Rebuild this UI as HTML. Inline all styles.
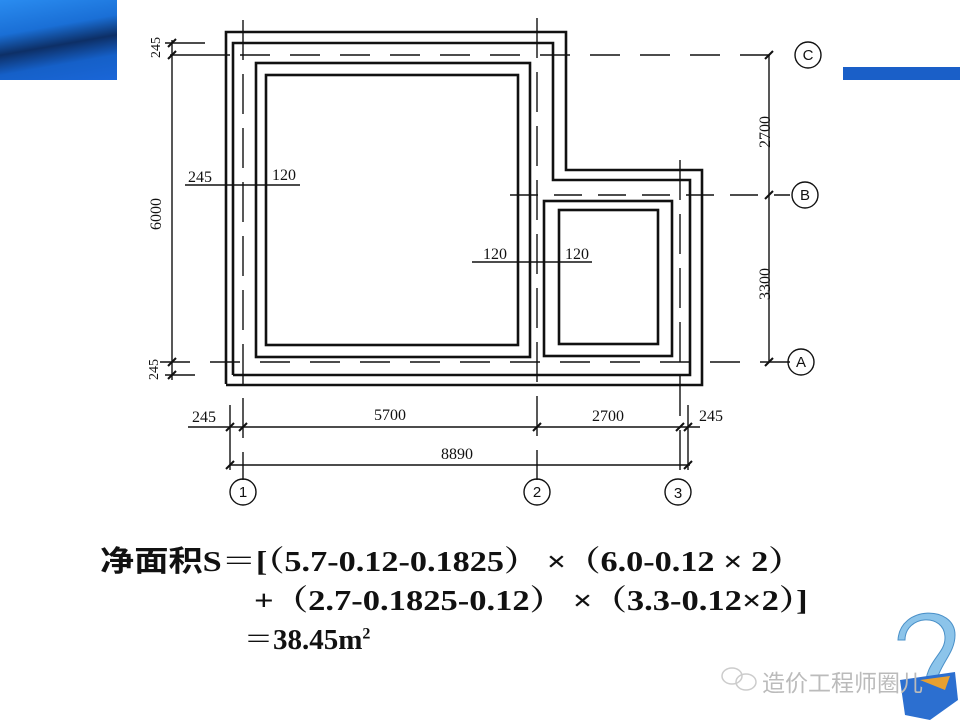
<!DOCTYPE html>
<html><head><meta charset="utf-8"><style>
html,body{margin:0;padding:0;background:#fff;}
body{width:960px;height:720px;position:relative;overflow:hidden;}
.f{position:absolute;font-family:"Liberation Serif","Noto Serif CJK SC",serif;font-weight:bold;font-size:29px;color:#111;white-space:nowrap;transform-origin:0 0;}
.cj{font-family:"Liberation Sans","Noto Sans CJK SC",sans-serif;}
</style></head><body>
<div style="position:absolute;left:0;top:0;width:117px;height:80px;background:linear-gradient(170deg,#2a8cf0 0%,#1a6fd6 35%,#0d2f66 55%,#1560c8 75%,#1a66d8 100%);"></div>
<div style="position:absolute;left:843px;top:67px;width:117px;height:13px;background:#1a5fc8;"></div>
<svg width="960" height="720" style="position:absolute;left:0;top:0" font-family="Liberation Serif,serif" font-size="16" fill="#111">
<g fill="none" stroke="#111" stroke-width="2.6">
<polyline points="226,384 226,32 566,32 566,170 702,170 702,385 226,385"/>
<polyline points="233,375 233,43 553,43 553,180 690,180 690,375 233,375"/>
<rect x="256" y="63" width="274" height="294"/>
<rect x="266" y="75" width="252" height="270"/>
<rect x="544" y="201" width="128" height="155"/>
<rect x="559" y="210" width="99" height="134"/>
</g>
<g fill="none" stroke="#111" stroke-width="1.4">
<line x1="170" y1="55" x2="230" y2="55"/>
<line x1="240" y1="55" x2="790" y2="55" stroke-dasharray="30,20"/>
<line x1="510" y1="195" x2="790" y2="195" stroke-dasharray="28,16"/>
<line x1="160" y1="362" x2="790" y2="362" stroke-dasharray="30,20"/>
<line x1="165" y1="43" x2="205" y2="43"/>
<line x1="165" y1="375" x2="195" y2="375"/>
<line x1="172" y1="40" x2="172" y2="380"/>
<line x1="769" y1="55" x2="769" y2="362"/>
<line x1="243" y1="20" x2="243" y2="480" stroke-dasharray="40,14"/>
<line x1="537" y1="18" x2="537" y2="480" stroke-dasharray="40,14"/>
<line x1="680" y1="160" x2="680" y2="480" stroke-dasharray="40,14"/>
<line x1="230" y1="405" x2="230" y2="470"/>
<line x1="688" y1="405" x2="688" y2="470"/>
<line x1="188" y1="427" x2="700" y2="427"/>
<line x1="230" y1="465" x2="690" y2="465"/>
<line x1="185" y1="185" x2="300" y2="185"/>
<line x1="472" y1="262" x2="592" y2="262"/>
<circle cx="808" cy="55" r="13"/>
<circle cx="805" cy="195" r="13"/>
<circle cx="801" cy="362" r="13"/>
<circle cx="243" cy="492" r="13"/>
<circle cx="537" cy="492" r="13"/>
<circle cx="678" cy="492" r="13"/>
</g>
<g stroke="#111" stroke-width="2">
<line x1="168" y1="47" x2="176" y2="39"/><line x1="168" y1="59" x2="176" y2="51"/>
<line x1="168" y1="366" x2="176" y2="358"/><line x1="168" y1="379" x2="176" y2="371"/>
<line x1="765" y1="59" x2="773" y2="51"/><line x1="765" y1="199" x2="773" y2="191"/><line x1="765" y1="366" x2="773" y2="358"/>
<line x1="226" y1="431" x2="234" y2="423"/><line x1="239" y1="431" x2="247" y2="423"/><line x1="533" y1="431" x2="541" y2="423"/><line x1="676" y1="431" x2="684" y2="423"/><line x1="684" y1="431" x2="692" y2="423"/>
<line x1="226" y1="469" x2="234" y2="461"/><line x1="684" y1="469" x2="692" y2="461"/>
</g>
<text x="188" y="182">245</text><text x="272" y="180">120</text>
<text x="483" y="259">120</text><text x="565" y="259">120</text>
<text x="192" y="422">245</text><text x="374" y="420">5700</text><text x="592" y="421">2700</text><text x="699" y="421">245</text><text x="441" y="459">8890</text>
<text transform="translate(161,230) rotate(-90)">6000</text>
<text transform="translate(160,58) rotate(-90)" font-size="14">245</text>
<text transform="translate(158,380) rotate(-90)" font-size="14">245</text>
<text transform="translate(770,148) rotate(-90)">2700</text>
<text transform="translate(770,300) rotate(-90)">3300</text>
<g font-family="Liberation Sans,sans-serif" font-size="15" text-anchor="middle">
<text x="808" y="60">C</text><text x="805" y="200">B</text><text x="801" y="367">A</text>
<text x="243" y="497">1</text><text x="537" y="497">2</text><text x="678" y="498">3</text>
</g>
<path d="M905,640 C905,615 945,612 945,638 C945,655 925,660 925,690 L935,690 C937,665 955,655 955,635 C955,605 900,605 898,640 Z" fill="#8cc4ea" stroke="#4a90c8" stroke-width="1"/>
<polygon points="900,680 955,672 958,700 930,720 905,715" fill="#2c6fd0"/>
<polygon points="920,680 950,676 945,690" fill="#e8a030"/>
<g fill="none" stroke="#ccc" stroke-width="1.5"><ellipse cx="732" cy="676" rx="10" ry="8"/><ellipse cx="746" cy="682" rx="10" ry="8"/></g>
</svg>
<div class="f" style="left:100px;top:538px;transform:scaleX(1.18);"><span class="cj">净面积</span>S＝[（5.7-0.12-0.1825） ×（6.0-0.12 × 2）</div>
<div class="f" style="left:254px;top:578px;transform:scaleX(1.19);">+（2.7-0.1825-0.12） ×（3.3-0.12×2）]</div>
<div class="f" style="left:244px;top:617px;">＝38.45m<sup style="font-size:16px">2</sup></div>
<div style="position:absolute;left:762px;top:664px;font-family:'Noto Sans CJK SC',sans-serif;font-size:23px;color:#bbb;">造价工程师圈儿</div>
</body></html>
